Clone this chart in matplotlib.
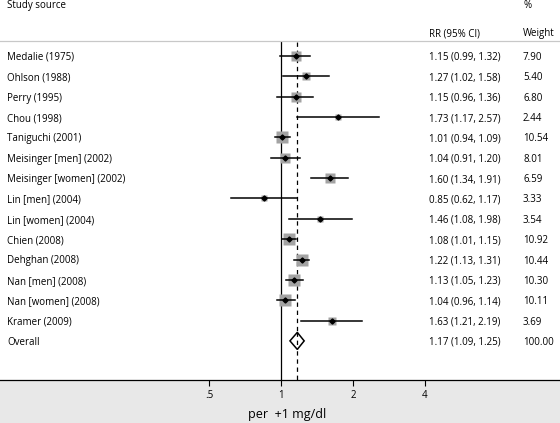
import numpy as np
import matplotlib
matplotlib.use('Agg')
import matplotlib.pyplot as plt
from matplotlib.patches import Rectangle, Polygon
from matplotlib.transforms import blended_transform_factory

plt.rcParams['font.family'] = ['Open Sans', 'DejaVu Sans']

# study data
studies = ['Medalie (1975)', 'Ohlson (1988)', 'Perry (1995)', 'Chou (1998)',
           'Taniguchi (2001)', 'Meisinger [men] (2002)', 'Meisinger [women] (2002)',
           'Lin [men] (2004)', 'Lin [women] (2004)', 'Chien (2008)', 'Dehghan (2008)',
           'Nan [men] (2008)', 'Nan [women] (2008)', 'Kramer (2009)']
rr = [1.15, 1.27, 1.15, 1.73, 1.01, 1.04, 1.60, 0.85, 1.46, 1.08, 1.22, 1.13, 1.04, 1.63]
lo = [0.99, 1.02, 0.96, 1.17, 0.94, 0.91, 1.34, 0.62, 1.08, 1.01, 1.13, 1.05, 0.96, 1.21]
hi = [1.32, 1.58, 1.36, 2.57, 1.09, 1.20, 1.91, 1.17, 1.98, 1.15, 1.31, 1.23, 1.14, 2.19]
weight = [7.90, 5.40, 6.80, 2.44, 10.54, 8.01, 6.59, 3.33, 3.54, 10.92, 10.44, 10.30, 10.11, 3.69]

overall_rr, overall_lo, overall_hi = 1.17, 1.09, 1.25
xticks = [0.5, 1, 2, 4]
xtick_labels = ['.5', '1', '2', '4']

fig = plt.figure(figsize=(5.6, 4.23), dpi=100)
fig.patch.set_facecolor('white')
H = 423.0
ax_bottom = (H - 380) / H
fig.patches.append(Rectangle((0, 0), 1, ax_bottom, transform=fig.transFigure,
                             facecolor='#e8e8e8', edgecolor='none', zorder=-5))

ax = fig.add_axes([0, ax_bottom, 1, 380 / H])
ax.set_zorder(2)
ax.set_facecolor('none')
ax.set_xscale('log')
ax.set_xlim(2 ** (-281 / 72), 2 ** (279 / 72))
row_h = 20.35
ax.set_ylim((380 - 56) / row_h, -56 / row_h)
for s in ['top', 'left', 'right']:
    ax.spines[s].set_visible(False)
ax.spines['bottom'].set_linewidth(0.9)
ax.set_yticks([])
ax.set_xticks(xticks)
ax.set_xticklabels(xtick_labels)
ax.minorticks_off()
ax.tick_params(axis='x', length=4, width=0.8, labelsize=7, pad=3)

sep_y = -15.3 / row_h
ybot = (380 - 56) / row_h
ax.plot([1, 1], [sep_y + 0.08, ybot], color='black', lw=0.9)
ax.plot([overall_rr, overall_rr], [sep_y + 0.08, ybot], color='black', lw=0.9,
        ls=(0, (3.5, 3)))

tr = blended_transform_factory(ax.transAxes, ax.transData)
ax.plot([0, 1], [sep_y, sep_y], transform=tr, color='#c8c8c8', lw=0.9, clip_on=False)

fs = 7
tdy = 1.5 / row_h  # nudge text down a little
ax.text(7 / 560, -50 / row_h, 'Study source', transform=tr, fontsize=fs, va='center')
ax.text(429 / 560, -22 / row_h, 'RR (95% CI)', transform=tr, fontsize=fs, va='center')
ax.text(523 / 560, -50 / row_h, '%', transform=tr, fontsize=fs, va='center')
ax.text(523 / 560, -22 / row_h, 'Weight', transform=tr, fontsize=fs, va='center')

for i, name in enumerate(studies):
    side = 8.6 * np.sqrt(weight[i] / 10.54)
    ax.plot(rr[i], i, marker='s', ms=side, color='#a3a3a3', mec='none', zorder=2)
    ax.plot([lo[i], hi[i]], [i, i], color='black', lw=1.1, zorder=3)
    ax.plot(rr[i], i, marker='D', ms=2.6, color='black', zorder=4)
    ax.text(7 / 560, i + tdy, name, transform=tr, fontsize=fs, va='center')
    ax.text(429 / 560, i + tdy, f'{rr[i]:.2f} ({lo[i]:.2f}, {hi[i]:.2f})', transform=tr,
            fontsize=fs, va='center')
    ax.text(523 / 560, i + tdy, f'{weight[i]:.2f}', transform=tr, fontsize=fs, va='center')

yo = len(studies)
dh = 8.5 / row_h
diamond = Polygon([[overall_lo, yo], [overall_rr, yo - dh], [overall_hi, yo], [overall_rr, yo + dh]],
                  closed=True, facecolor='white', edgecolor='black', lw=1.1, zorder=3)
ax.add_patch(diamond)
ax.plot([overall_rr, overall_rr], [yo - dh, yo + dh], color='black', lw=0.9,
        ls=(0, (3.5, 3)), zorder=4)
ax.text(7 / 560, yo + tdy, 'Overall', transform=tr, fontsize=fs, va='center')
ax.text(429 / 560, yo + tdy, f'{overall_rr:.2f} ({overall_lo:.2f}, {overall_hi:.2f})',
        transform=tr, fontsize=fs, va='center')
ax.text(523 / 560, yo + tdy, '100.00', transform=tr, fontsize=fs, va='center')

fig.text(287 / 560, (H - 414) / H, 'per  +1 mg/dl', fontsize=9, ha='center', va='center')

fig.savefig('out.png', dpi=100)
